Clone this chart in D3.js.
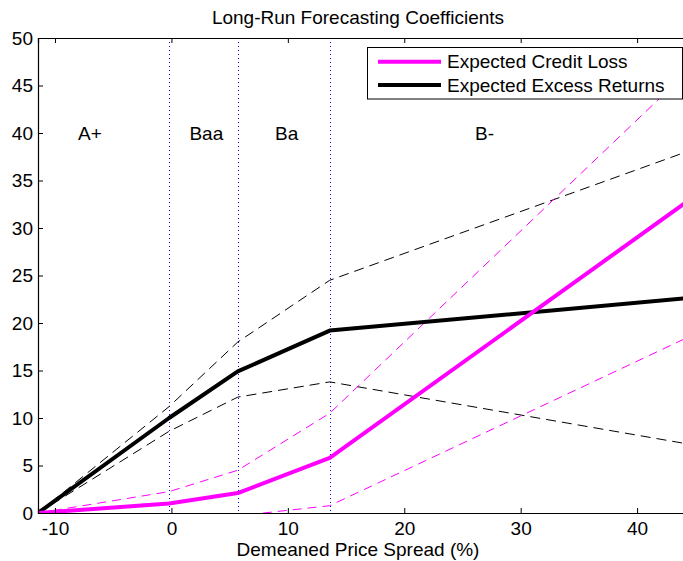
<!DOCTYPE html>
<html>
<head>
<meta charset="utf-8">
<script src="https://cdn.jsdelivr.net/npm/d3@7"></script>
<style>
  body { margin: 0; background: #fff; }
  text { font-family: "Liberation Sans", Arial, sans-serif; fill: #000; }
</style>
</head>
<body>
<div id="chart"></div>
<script>
// spread breakpoints (%) and coefficient paths
var spread = [-11.46, -0.2, 5.7, 13.6, 44.2];
var creditLoss = [0, 1.0, 2.1, 5.8, 32.7];
var creditLossUpper = [0, 2.25, 4.5, 10.5, 46.3];
var creditLossLower = [0, -0.3, -0.3, 0.77, 18.4];
var excessReturns = [0, 10.0, 14.9, 19.2, 22.6];
var excessUpper = [0, 11.2, 18.0, 24.5, 38.0];
var excessLower = [0, 8.6, 12.2, 13.8, 7.3];

var ratingBounds = [-0.2, 5.7, 13.6];
var ratingNames = ["A+", "Baa", "Ba", "B-"];
var ratingX = [-7.0, 3.0, 9.9, 26.9];

var xTicks = [-10, 0, 10, 20, 30, 40];
var yTicks = [0, 5, 10, 15, 20, 25, 30, 35, 40, 45, 50];

var W = 683, H = 561;
var margin = {left: 38, right: 686, top: 38, bottom: 513};

var svg = d3.select("#chart").append("svg")
    .attr("width", W)
    .attr("height", H);

var x = d3.scaleLinear().domain([-11.46, 44.2]).range([margin.left, margin.right]);
var y = d3.scaleLinear().domain([0, 50]).range([margin.bottom, margin.top]);

svg.append("defs").append("clipPath")
    .attr("id", "plotclip")
  .append("rect")
    .attr("x", margin.left).attr("y", margin.top)
    .attr("width", margin.right - margin.left).attr("height", margin.bottom - margin.top);

var plot = svg.append("g").attr("clip-path", "url(#plotclip)");

// rating class boundaries
plot.selectAll(".bound")
    .data(ratingBounds)
    .enter()
    .append("line")
        .attr("x1", function(d) { return Math.round(x(d)) + 0.5; })
        .attr("x2", function(d) { return Math.round(x(d)) + 0.5; })
        .attr("y1", margin.top)
        .attr("y2", margin.bottom)
        .attr("stroke", "#0000ff")
        .attr("stroke-width", 1)
        .attr("stroke-dasharray", "1,3");

var line = d3.line()
    .x(function(d, i) { return x(spread[i]); })
    .y(function(d) { return y(d); });

var series = [
    {values: excessUpper, color: "#000", width: 1, dash: "10,6"},
    {values: excessLower, color: "#000", width: 1, dash: "10,6"},
    {values: creditLossUpper, color: "#ff00ff", width: 1, dash: "9,6"},
    {values: creditLossLower, color: "#ff00ff", width: 1, dash: "9,6"},
    {values: excessReturns, color: "#000", width: 4, dash: null},
    {values: creditLoss, color: "#ff00ff", width: 4, dash: null}
];

plot.selectAll(".series")
    .data(series)
    .enter()
    .append("path")
        .attr("d", function(d) { return line(d.values); })
        .attr("fill", "none")
        .attr("stroke", function(d) { return d.color; })
        .attr("stroke-width", function(d) { return d.width; })
        .attr("stroke-dasharray", function(d) { return d.dash; })
        .attr("stroke-linejoin", "round");

// rating labels
svg.selectAll(".rating")
    .data(ratingNames)
    .enter()
    .append("text")
        .attr("x", function(d, i) { return x(ratingX[i]); })
        .attr("y", y(40))
        .attr("dy", "0.35em")
        .attr("text-anchor", "middle")
        .style("font-size", "19px")
        .text(function(d) { return d; });

// axes, ticks inside like matlab
var fmt = function(d) { return String(d); };
var xAxis = svg.append("g")
    .attr("transform", "translate(0," + margin.bottom + ")")
    .call(d3.axisBottom(x).tickValues(xTicks).tickSize(-5).tickPadding(9).tickFormat(fmt));
var xAxisTop = svg.append("g")
    .attr("transform", "translate(0," + margin.top + ")")
    .call(d3.axisTop(x).tickValues(xTicks).tickSize(-5).tickFormat(""));
var yAxis = svg.append("g")
    .attr("transform", "translate(" + margin.left + ",0)")
    .call(d3.axisLeft(y).tickValues(yTicks).tickSize(-5).tickPadding(5).tickFormat(fmt));

[xAxis, xAxisTop, yAxis].forEach(function(g) {
    g.select(".domain").attr("stroke", "#000").attr("stroke-width", 1.2);
    g.selectAll(".tick line").attr("stroke", "#000");
    g.selectAll(".tick text")
        .style("font-size", "19px")
        .style("font-family", "'Liberation Sans', Arial, sans-serif")
        .attr("fill", "#000");
});

// title and x label
svg.append("text")
    .attr("x", 358)
    .attr("y", 24)
    .attr("text-anchor", "middle")
    .style("font-size", "19px")
    .text("Long-Run Forecasting Coefficients");

svg.append("text")
    .attr("x", 358)
    .attr("y", 556)
    .attr("text-anchor", "middle")
    .style("font-size", "19px")
    .text("Demeaned Price Spread (%)");

// legend
var legendItems = [
    {name: "Expected Credit Loss", color: "#ff00ff"},
    {name: "Expected Excess Returns", color: "#000"}
];

var legend = svg.append("g");
legend.append("rect")
    .attr("x", 367.5)
    .attr("y", 47.5)
    .attr("width", 315)
    .attr("height", 51.5)
    .attr("fill", "#fff")
    .attr("stroke", "#000")
    .attr("stroke-width", 1);

var legendRow = legend.selectAll(".item")
    .data(legendItems)
    .enter()
    .append("g")
        .attr("transform", function(d, i) { return "translate(0," + (61.7 + i * 23.3) + ")"; });

legendRow.append("line")
    .attr("x1", 378).attr("x2", 441)
    .attr("stroke", function(d) { return d.color; })
    .attr("stroke-width", 4);

legendRow.append("text")
    .attr("x", 447)
    .attr("dy", "0.35em")
    .style("font-size", "19px")
    .text(function(d) { return d.name; });
</script>
</body>
</html>
